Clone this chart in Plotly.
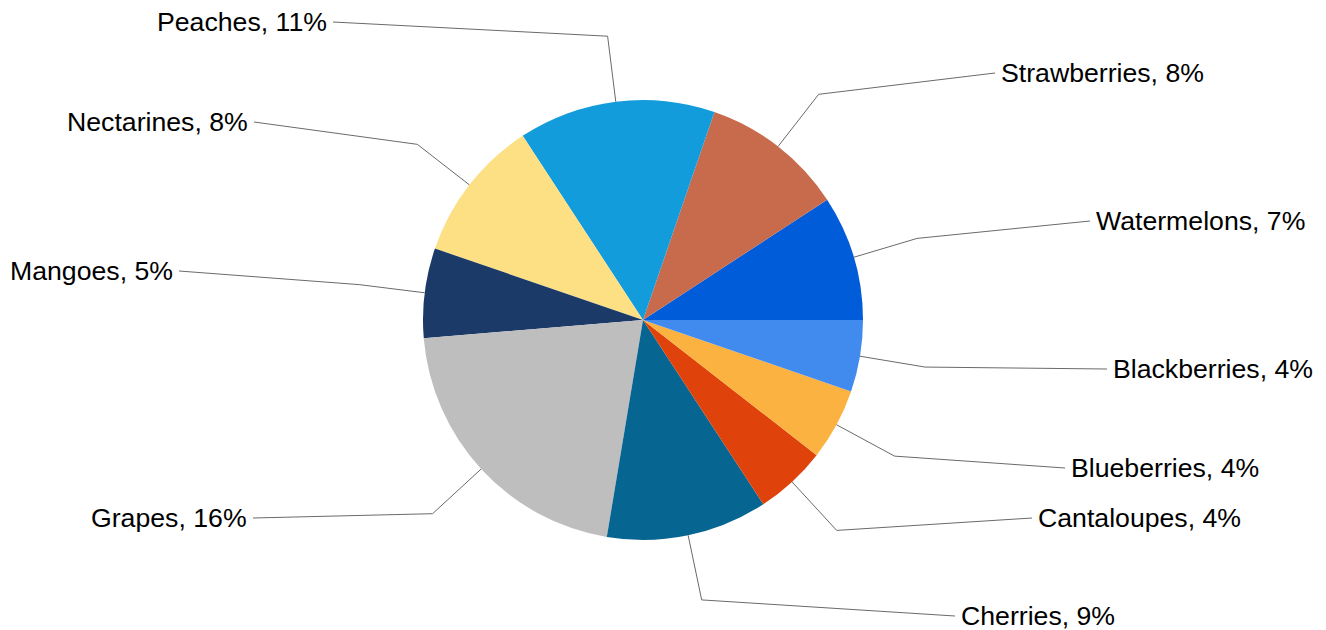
import math
import plotly.graph_objects as go

# ---- data ----
fruits = ["Watermelons", "Strawberries", "Peaches", "Nectarines", "Mangoes",
          "Grapes", "Cherries", "Cantaloupes", "Blueberries", "Blackberries"]
shares = [7, 8, 11, 8, 5, 16, 9, 4, 4, 4]
colors = ["#015CDA", "#C86B4D", "#139CDB", "#FDE084", "#1B3A68",
          "#BEBEBE", "#076591", "#E0420C", "#FBB241", "#418BEE"]

# ---- layout (pixels) ----
W, H = 1326, 630
CX, CY, R = 643, 320, 220
ELBOW = 1.3
# end of each leader line, where the label sits (pixels)
label_anchor = [(1090, 221), (995, 73), (333, 22), (254, 122), (179, 271),
                (253, 518), (955, 616), (1032, 518), (1065, 468), (1107, 369)]

def px(x):
    return x / W

def py(y):
    return 1 - y / H

total = sum(shares)
# plotly: with counterclockwise direction the first slice ends at the rotation angle,
# so shift it so that the first slice starts at 3 o'clock
rotation = 90 - shares[0] / total * 360

fig = go.Figure(go.Pie(
    labels=fruits, values=shares, sort=False,
    direction="counterclockwise", rotation=rotation,
    marker=dict(colors=colors, line=dict(width=0)),
    textinfo="none", hoverinfo="label+value",
    domain=dict(x=[px(CX - R), px(CX + R)], y=[py(CY + R), py(CY - R)]),
    showlegend=False,
))

start = 0.0
shapes, annotations = [], []
for name, v, (lx, ly) in zip(fruits, shares, label_anchor):
    span = v / total * 360
    mid = math.radians(start + span / 2)
    start += span
    ex, ey = CX + R * math.cos(mid), CY - R * math.sin(mid)
    bx, by = CX + ELBOW * R * math.cos(mid), CY - ELBOW * R * math.sin(mid)
    shapes.append(dict(
        type="path", xref="paper", yref="paper",
        path=f"M {px(ex)},{py(ey)} L {px(bx)},{py(by)} L {px(lx)},{py(ly)}",
        line=dict(color="#6a6a6a", width=1),
    ))
    right = lx > CX
    annotations.append(dict(
        x=px(lx), y=py(ly), xref="paper", yref="paper",
        text=f"{name}, {v}%", showarrow=False,
        xanchor="left" if right else "right", yanchor="middle",
        xshift=4 if right else -4,
        font=dict(family="Liberation Sans, Arial, sans-serif", size=26.67, color="#000000"),
    ))

fig.update_layout(
    width=W, height=H,
    margin=dict(l=0, r=0, t=0, b=0),
    paper_bgcolor="white", plot_bgcolor="white",
    shapes=shapes, annotations=annotations,
)

fig.write_html("out.html",
               config={"displayModeBar": False},
               post_script="document.body.style.margin='0';document.body.style.overflow='hidden';")
